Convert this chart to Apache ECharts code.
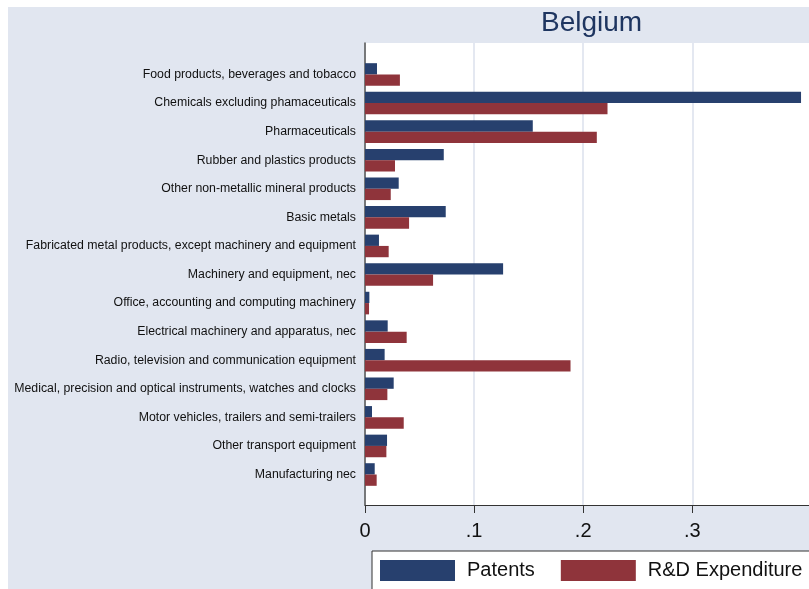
<!DOCTYPE html>
<html><head><meta charset="utf-8">
<script src="https://cdn.jsdelivr.net/npm/echarts@6/dist/echarts.min.js"></script>
<style>
html,body{margin:0;padding:0;background:#fff;}
#bg{position:absolute;left:8px;top:7px;width:801px;height:582px;background:#e1e6f0;}
#plot{position:absolute;left:365px;top:43px;width:444px;height:462px;background:#fff;}
#chart{position:absolute;left:0;top:0;width:809px;height:589px;}
</style></head><body>
<div id="bg"></div><div id="plot"></div><div id="chart"></div>
<script>
const titleText = 'Belgium';
const categories = [
  'Food products, beverages and tobacco',
  'Chemicals excluding phamaceuticals',
  'Pharmaceuticals',
  'Rubber and plastics products',
  'Other non-metallic mineral products',
  'Basic metals',
  'Fabricated metal products, except machinery and equipment',
  'Machinery and equipment, nec',
  'Office, accounting and computing machinery',
  'Electrical machinery and apparatus, nec',
  'Radio, television and communication equipment',
  'Medical, precision and optical instruments, watches and clocks',
  'Motor vehicles, trailers and semi-trailers',
  'Other transport equipment',
  'Manufacturing nec'
];
const patents = [0.011, 0.3997, 0.1538, 0.0722, 0.0309, 0.0740, 0.0128, 0.1266, 0.0040, 0.0208, 0.0180, 0.0263, 0.0064, 0.0202, 0.0089];
const rdExpenditure = [0.0320, 0.2223, 0.2125, 0.0275, 0.0236, 0.0404, 0.0217, 0.0624, 0.0037, 0.0382, 0.1884, 0.0205, 0.0355, 0.0196, 0.0107];
const seriesNames = ['Patents', 'R&D Expenditure'];
const tickValues = [0, 0.1, 0.2, 0.3];
const tickLabels = ['0', '.1', '.2', '.3'];

const FONT = "'Liberation Sans', Arial, sans-serif";
const X_MAX = 0.407;
const chart = echarts.init(document.getElementById('chart'), null, {renderer: 'canvas'});

function tickFmt(v) {
  for (let i = 0; i < tickValues.length; i++) {
    if (Math.abs(v - tickValues[i]) < 1e-9) return tickLabels[i];
  }
  return '';
}

chart.setOption({
  backgroundColor: 'transparent',
  animation: false,
  textStyle: {fontFamily: FONT},
  title: {
    text: titleText, left: 541, top: 9, padding: 0,
    textStyle: {fontSize: 28, fontWeight: 'normal', color: '#1e3560', fontFamily: FONT}
  },
  legend: {
    data: seriesNames, left: 372, top: 551, width: 700, orient: 'horizontal',
    itemWidth: 75, itemHeight: 21, itemGap: 26, icon: 'rect',
    padding: [9, 40, 30, 8],
    backgroundColor: '#fff', borderColor: '#333', borderWidth: 1, borderRadius: 0,
    selectedMode: false,
    textStyle: {fontSize: 20, color: '#111', fontFamily: FONT, padding: [0, 0, 0, 7]}
  },
  grid: [
    {left: 365, right: 0, top: 60.2, bottom: 100.2, containLabel: false},
    {left: 365, right: 0, top: 43, bottom: 84, containLabel: false},
    {left: 365, width: 0.3 * 1091, top: 43, bottom: 84, containLabel: false}
  ],
  xAxis: [
    {gridIndex: 0, type: 'value', min: 0, max: X_MAX, show: false},
    {gridIndex: 1, type: 'value', min: 0, max: X_MAX,
     axisLine: {show: true, onZero: false, lineStyle: {color: '#333', width: 1}},
     axisTick: {show: false}, axisLabel: {show: false}, splitLine: {show: false}},
    {gridIndex: 2, type: 'value', min: 0, max: 0.3, interval: 0.1,
     axisLine: {show: false},
     axisTick: {show: true, length: 8, lineStyle: {color: '#333', width: 1}},
     axisLabel: {show: true, formatter: tickFmt, fontSize: 20, color: '#111', margin: 16, fontFamily: FONT},
     splitLine: {show: true, lineStyle: {color: '#dbe1ec', width: 1.5}}}
  ],
  yAxis: [
    {gridIndex: 0, type: 'category', inverse: true, data: categories,
     axisLine: {show: false}, axisTick: {show: false},
     axisLabel: {show: true, interval: 0, fontSize: 12.3, color: '#111', margin: 9, fontFamily: FONT},
     splitLine: {show: false}},
    {gridIndex: 1, type: 'value', min: 0, max: 1,
     axisLine: {show: true, onZero: false, lineStyle: {color: '#555', width: 1.5}},
     axisTick: {show: false}, axisLabel: {show: false}, splitLine: {show: false}},
    {gridIndex: 2, type: 'value', min: 0, max: 1, show: false}
  ],
  series: [
    {name: seriesNames[0], type: 'bar', xAxisIndex: 0, yAxisIndex: 0, data: patents,
     barWidth: 11.3, barGap: '0%', itemStyle: {color: '#27406e'}, z: 3},
    {name: seriesNames[1], type: 'bar', xAxisIndex: 0, yAxisIndex: 0, data: rdExpenditure,
     barWidth: 11.3, barGap: '0%', itemStyle: {color: '#8f343b'}, z: 3}
  ]
});
</script>
</body></html>
